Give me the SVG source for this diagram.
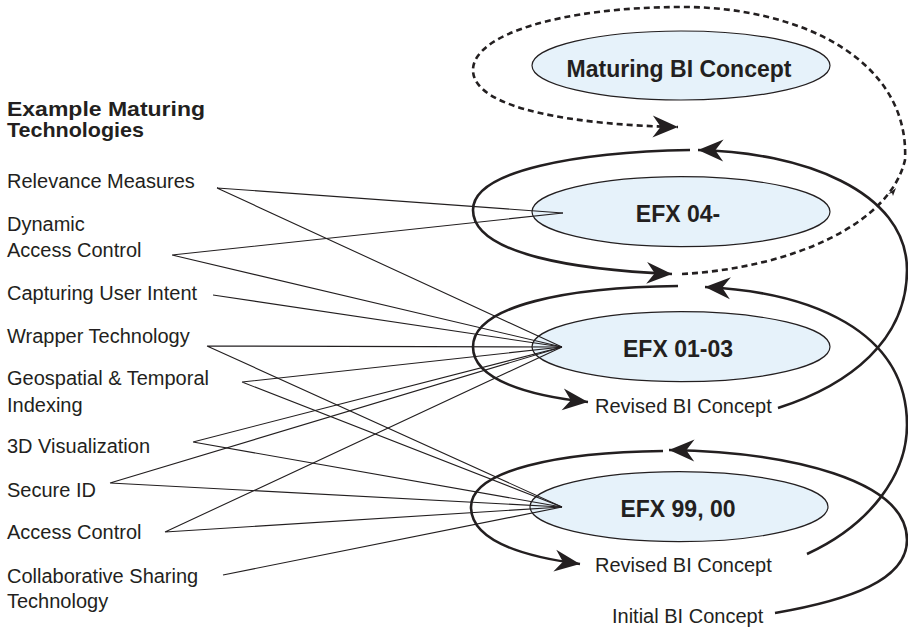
<svg xmlns="http://www.w3.org/2000/svg" width="908" height="629" viewBox="0 0 908 629">
  <style>
    .bg { fill: #ffffff; }
    .node { fill: #e6f2fa; stroke: #231f20; stroke-width: 1.2; }
    .lbl { font-family: "Liberation Sans", Arial, sans-serif; font-size: 20px; fill: #231f20; }
    .title { font-family: "Liberation Sans", Arial, sans-serif; font-size: 21px; font-weight: bold; fill: #231f20; }
    .nodetxt { font-family: "Liberation Sans", Arial, sans-serif; font-size: 23px; font-weight: bold; fill: #231f20; text-anchor: middle; }
    .thin { fill: none; stroke: #231f20; stroke-width: 1.1; }
    .loop { fill: none; stroke: #231f20; stroke-width: 2.6; }
    .dash { fill: none; stroke: #231f20; stroke-width: 2.6; stroke-dasharray: 6 4; }
  </style>
  <defs>
    <marker id="head" markerUnits="userSpaceOnUse" markerWidth="30" markerHeight="30" viewBox="-24 -12 26 24" refX="0" refY="0" orient="auto" overflow="visible">
      <path d="M0,0 L-22,-9.5 L-15,0 L-22,9.5 Z" fill="#231f20"/>
    </marker>
  </defs>

  <rect class="bg" x="0" y="0" width="908" height="629"/>

  <!-- heading -->
  <g id="heading">
    <text class="title" x="7" y="116" textLength="198" lengthAdjust="spacingAndGlyphs">Example Maturing</text>
    <text class="title" x="7" y="137" textLength="137" lengthAdjust="spacingAndGlyphs">Technologies</text>
  </g>

  <!-- technology labels -->
  <g id="tech-relevance"><text class="lbl" x="7" y="188">Relevance Measures</text></g>
  <g id="tech-dynamic-access"><text class="lbl" x="7" y="231">Dynamic</text><text class="lbl" x="7" y="257">Access Control</text></g>
  <g id="tech-user-intent"><text class="lbl" x="7" y="300">Capturing User Intent</text></g>
  <g id="tech-wrapper"><text class="lbl" x="7" y="343">Wrapper Technology</text></g>
  <g id="tech-geospatial"><text class="lbl" x="7" y="385">Geospatial &amp; Temporal</text><text class="lbl" x="7" y="412">Indexing</text></g>
  <g id="tech-3d"><text class="lbl" x="7" y="453">3D Visualization</text></g>
  <g id="tech-secure-id"><text class="lbl" x="7" y="497">Secure ID</text></g>
  <g id="tech-access"><text class="lbl" x="7" y="539">Access Control</text></g>
  <g id="tech-collab"><text class="lbl" x="7" y="583">Collaborative Sharing</text><text class="lbl" x="7" y="608">Technology</text></g>

  <!-- concept ellipses -->
  <g id="node-maturing">
    <ellipse class="node" cx="681" cy="65.5" rx="149" ry="34.5"/>
    <text class="nodetxt" x="679" y="77">Maturing BI Concept</text>
  </g>
  <g id="node-efx04">
    <ellipse class="node" cx="681" cy="211.7" rx="149" ry="35"/>
    <text class="nodetxt" x="678" y="222">EFX 04-</text>
  </g>
  <g id="node-efx0103">
    <ellipse class="node" cx="681" cy="346.7" rx="149" ry="35"/>
    <text class="nodetxt" x="678" y="357">EFX 01-03</text>
  </g>
  <g id="node-efx9900">
    <ellipse class="node" cx="679" cy="506.7" rx="149" ry="35"/>
    <text class="nodetxt" x="678" y="517">EFX 99, 00</text>
  </g>

  <!-- stage labels along the spiral -->
  <g id="stage-revised-upper"><text class="lbl" x="595" y="413">Revised BI Concept</text></g>
  <g id="stage-revised-lower"><text class="lbl" x="595" y="572">Revised BI Concept</text></g>
  <g id="stage-initial"><text class="lbl" x="612" y="623">Initial BI Concept</text></g>

  <g id="connectors">
    <!-- technology feeds -->
    <g id="feeds">
      <path class="thin" d="M217,188 L563,213 M217,188 L562,347"/>
      <path class="thin" d="M172,255 L563,213 M172,255 L562,347"/>
      <path class="thin" d="M213,295 L562,347"/>
      <path class="thin" d="M207,346 L562,347 M207,346 L562,507"/>
      <path class="thin" d="M242,382 L562,347 M242,382 L562,507"/>
      <path class="thin" d="M193,442 L562,347 M193,442 L562,507"/>
      <path class="thin" d="M110,483 L562,347 M110,483 L562,507"/>
      <path class="thin" d="M165,532 L562,347 M165,532 L562,507"/>
      <path class="thin" d="M223,575 L562,507"/>
    </g>

    <!-- development spiral -->
    <g id="spiral">
      <path class="loop" marker-end="url(#head)" d="M775,613 C850,600 907,580 907,540 C907,480 790,452 669,450"/>
      <path class="loop" marker-end="url(#head)" d="M663,451 C560,452 471,470 471,507 C471,540 520,556 580,564"/>
      <path class="loop" marker-end="url(#head)" d="M807,554 C870,525 907,475 907,425 C907,330 810,292 705,287"/>
      <path class="loop" marker-end="url(#head)" d="M678,286 C570,287 473,305 473,347 C473,380 530,396 588,402"/>
      <path class="loop" marker-end="url(#head)" d="M778,408 C850,385 907,340 907,270 C907,190 800,152 698,150"/>
      <path class="loop" marker-end="url(#head)" d="M690,150 C580,152 473,170 473,210 C473,255 580,270 672,274"/>
      <path class="dash" marker-end="url(#head)" d="M682,274 C790,268 890,225 905,160 C910,60 800,7 683,7 C560,7 473,35 473,70 C473,110 580,125 678,127"/>
      <path d="M888,194 L896,188 L893,196 L892,193 Z" fill="#231f20"/>
    </g>
  </g>
</svg>
